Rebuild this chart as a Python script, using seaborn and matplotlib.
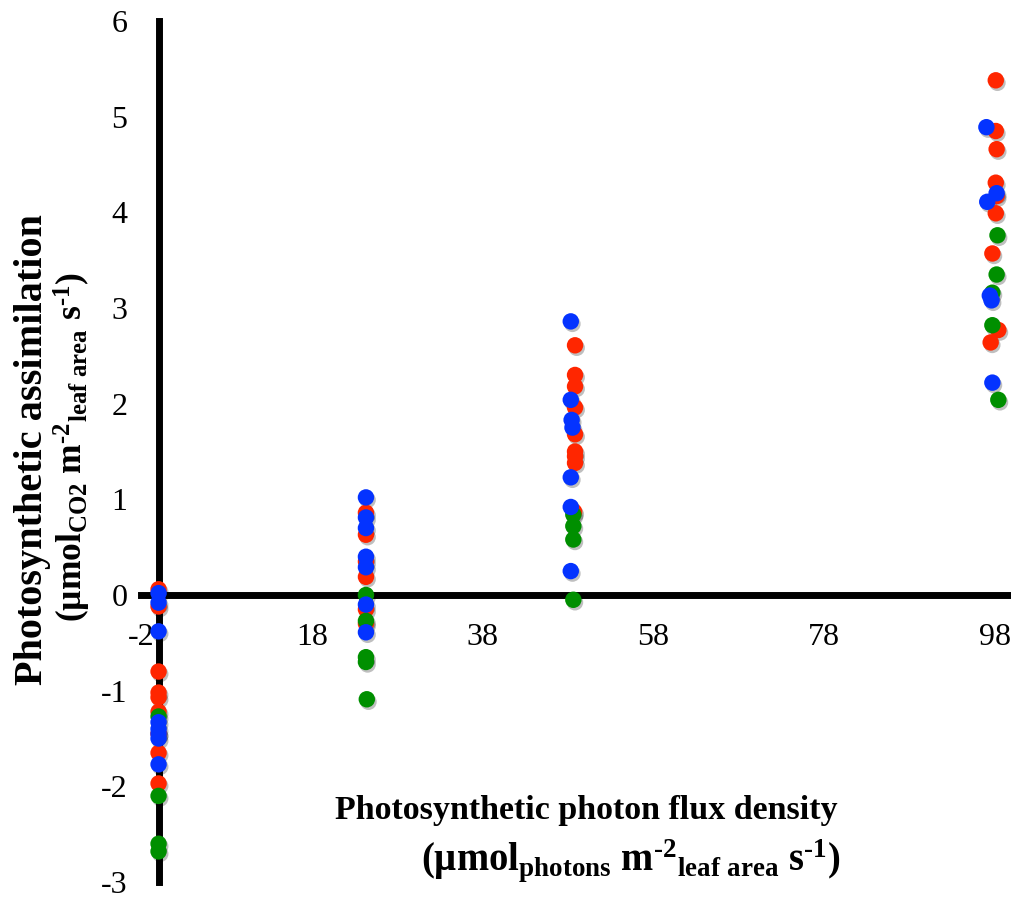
import matplotlib
matplotlib.use('Agg')
import matplotlib.pyplot as plt
import matplotlib.patheffects as pe
import seaborn as sns
import pandas as pd

# ---------------- data ----------------
red_x = [0, 0, 0, 0, 0, 0, 0, 0, 0,
         24.3, 24.3, 24.3, 24.3, 24.3, 24.3,
         48.8, 48.8, 48.8, 48.8, 48.8, 48.8, 48.8, 48.8, 48.7,
         98.1, 98.1, 98.2, 98.1, 98.2, 98.1, 97.7, 98.4, 97.5]
red_y = [0.06, -0.12, -0.80, -1.02, -1.07, -1.22, -1.45, -1.65, -1.97,
         0.86, 0.63, 0.35, 0.19, -0.15, -0.30,
         2.61, 2.30, 2.18, 1.96, 1.68, 1.50, 1.45, 1.38, 0.87,
         5.38, 4.85, 4.66, 4.31, 4.17, 3.99, 3.57, 2.77, 2.64]

green_x = [0, 0, 0, 0,
           24.3, 24.3, 24.3, 24.3, 24.4,
           48.6, 48.6, 48.6, 48.6,
           98.3, 98.2, 97.7, 97.7, 98.4]
green_y = [-1.27, -2.10, -2.60, -2.68,
           0.00, -0.27, -0.65, -0.70, -1.09,
           0.84, 0.72, 0.58, -0.05,
           3.76, 3.35, 3.16, 2.82, 2.04]

blue_x = [0, 0, 0, 0, 0, 0, 0, 0,
          24.3, 24.3, 24.3, 24.3, 24.3, 24.3, 24.3,
          48.3, 48.3, 48.4, 48.5, 48.3, 48.3, 48.3,
          97.0, 98.2, 97.1, 97.4, 97.6, 97.7]
blue_y = [0.02, -0.08, -0.38, -1.33, -1.40, -1.45, -1.50, -1.77,
          1.02, 0.81, 0.70, 0.40, 0.29, -0.10, -0.39,
          2.86, 2.04, 1.83, 1.75, 1.23, 0.92, 0.25,
          4.89, 4.20, 4.11, 3.13, 3.08, 2.22]

series_names = ["red", "green", "blue"]
series_colors = {"red": "#FF2600", "green": "#008F00", "blue": "#0433FF"}

x_ticks = [-2, 18, 38, 58, 78, 98]
y_ticks = [-3, -2, -1, 0, 1, 2, 3, 4, 5, 6]

df = pd.concat([
    pd.DataFrame({"x": red_x, "y": red_y, "s": "red"}),
    pd.DataFrame({"x": green_x, "y": green_y, "s": "green"}),
    pd.DataFrame({"x": blue_x, "y": blue_y, "s": "blue"}),
], ignore_index=True)

# ---------------- style ----------------
sns.set_theme(style="white")
plt.rcParams['font.family'] = ['Liberation Serif', 'DejaVu Serif']
plt.rcParams['mathtext.fontset'] = 'custom'
plt.rcParams['mathtext.rm'] = 'Liberation Serif:bold'
plt.rcParams['mathtext.bf'] = 'Liberation Serif:bold'
plt.rcParams['mathtext.it'] = 'Liberation Serif:bold'
plt.rcParams['axes.unicode_minus'] = False
plt.rcParams['text.color'] = 'black'

W, H = 1012, 905
fig = plt.figure(figsize=(W / 100, H / 100), dpi=100)
ax = fig.add_axes([141.5 / W, 1 - 882 / H, (W - 141.5) / W, (882 - 21) / H])

sns.scatterplot(data=df, x="x", y="y", hue="s", palette=series_colors,
                hue_order=series_names, s=140, linewidth=0, legend=False,
                ax=ax, zorder=3, clip_on=False)
for coll in ax.collections:
    coll.set_path_effects([pe.SimplePatchShadow(offset=(1.2, -1.8), shadow_rgbFace='black', alpha=0.25),
                           pe.Normal()])

ax.set_xlim(-2, 100)
ax.set_ylim(-3, 6)
ax.set_xticks(x_ticks)
ax.set_yticks(y_ticks)
ax.set_xticklabels([str(v) for v in x_ticks])
ax.set_yticklabels([str(v) for v in y_ticks])

for side in ["top", "right"]:
    ax.spines[side].set_visible(False)
ax.spines['left'].set_position(('data', 0))
ax.spines['bottom'].set_position(('data', 0))
for side in ["left", "bottom"]:
    ax.spines[side].set_linewidth(5)
    ax.spines[side].set_color('black')
    ax.spines[side].set_capstyle('projecting')

ax.tick_params(axis='y', direction='out', length=7.5, width=5, color='black',
               pad=15, labelsize=23, labelcolor='black')
ax.tick_params(axis='x', direction='out', length=7.5, width=5, color='black',
               pad=13, labelsize=23, labelcolor='black')
ax.set_xlabel("")
ax.set_ylabel("")
ax.grid(False)

# ---------------- axis titles ----------------
hy = "\u2010"
fig.text(838 / W, 1 - 819 / H, "Photosynthetic photon flux density",
         ha='right', va='baseline', fontsize=24.5, fontweight='bold', color='black')
fig.text(840 / W, 1 - 870 / H,
         r"(µmol$_{\mathrm{photons}}$ m$^{\mathrm{" + hy + r"2}}$$_{\mathrm{leaf\ area}}$ s$^{\mathrm{" + hy + r"1}}$)",
         ha='right', va='baseline', fontsize=27.8, fontweight='bold', color='black')

fig.text(42 / W, 1 - 450 / H, "Photosynthetic assimilation",
         ha='center', va='baseline', rotation=90, rotation_mode='anchor',
         fontsize=29, fontweight='bold', color='black')
fig.text(83 / W, 1 - 447 / H,
         r"(µmol$_{\mathrm{CO2}}$ m$^{\mathrm{" + hy + r"2}}$$_{\mathrm{leaf\ area}}$ s$^{\mathrm{" + hy + r"1}}$)",
         ha='center', va='baseline', rotation=90, rotation_mode='anchor',
         fontsize=25.5, fontweight='bold', color='black')

fig.savefig("out.png", dpi=100)
